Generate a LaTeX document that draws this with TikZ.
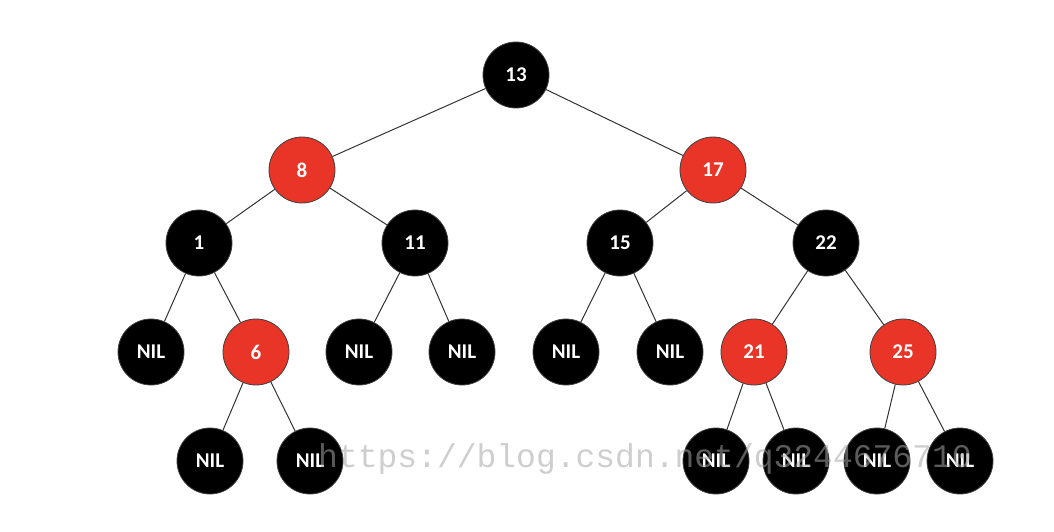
\documentclass[tikz,border=0pt]{standalone}
\usepackage{fontspec}
\setmainfont{Carlito}
\newfontfamily\markfont{Liberation Mono}
\begin{document}
\begin{tikzpicture}[x=1pt,y=-1pt,
  rbnode/.style={circle,minimum size=66pt,inner sep=0pt,draw=black!75,line width=0.8pt,
    text=white,font=\fontsize{21}{21}\selectfont\bfseries},
  blk/.style={rbnode,fill=black},
  red/.style={rbnode,fill=rbred},
  edge/.style={draw=black!80,line width=1pt},
  wmtext/.style={anchor=base west,inner sep=0pt,text=black!35,opacity=0.55,
    font=\markfont\fontsize{33}{33}\selectfont}]
\definecolor{rbred}{RGB}{233,52,40}
\useasboundingbox (0,0) rectangle (1054,532);
% internal nodes
\node[blk] (n13) at (516,75) {13};
\node[red] (n8) at (302,170) {8};
\node[red] (n17) at (713,170) {17};
\node[blk] (n1) at (199,243) {1};
\node[blk] (n11) at (415,243) {11};
\node[blk] (n15) at (620,243) {15};
\node[blk] (n22) at (826,243) {22};
\node[red] (n6) at (256,352) {6};
\node[red] (n21) at (754,352) {21};
\node[red] (n25) at (903,352) {25};
% leaves
\node[blk] (l1) at (151,352) {NIL};
\node[blk] (l2) at (359,352) {NIL};
\node[blk] (l3) at (462,352) {NIL};
\node[blk] (l4) at (566,352) {NIL};
\node[blk] (l5) at (670,352) {NIL};
\node[blk] (l6) at (210,461) {NIL};
\node[blk] (l7) at (310,461) {NIL};
\node[blk] (l8) at (716,461) {NIL};
\node[blk] (l9) at (796,461) {NIL};
\node[blk] (l10) at (877,461) {NIL};
\node[blk] (l11) at (960,461) {NIL};
% edges
\foreach \a/\b in {n13/n8,n13/n17,n8/n1,n8/n11,n17/n15,n17/n22,n1/l1,n1/n6,n11/l2,n11/l3,
  n15/l4,n15/l5,n22/n21,n22/n25,n6/l6,n6/l7,n21/l8,n21/l9,n25/l10,n25/l11}
  \draw[edge] (\a) -- (\b);
% watermark
\node[wmtext] (wm) at (318,467) {https://blog.csdn.net/q3244676710};
\end{tikzpicture}
\end{document}
